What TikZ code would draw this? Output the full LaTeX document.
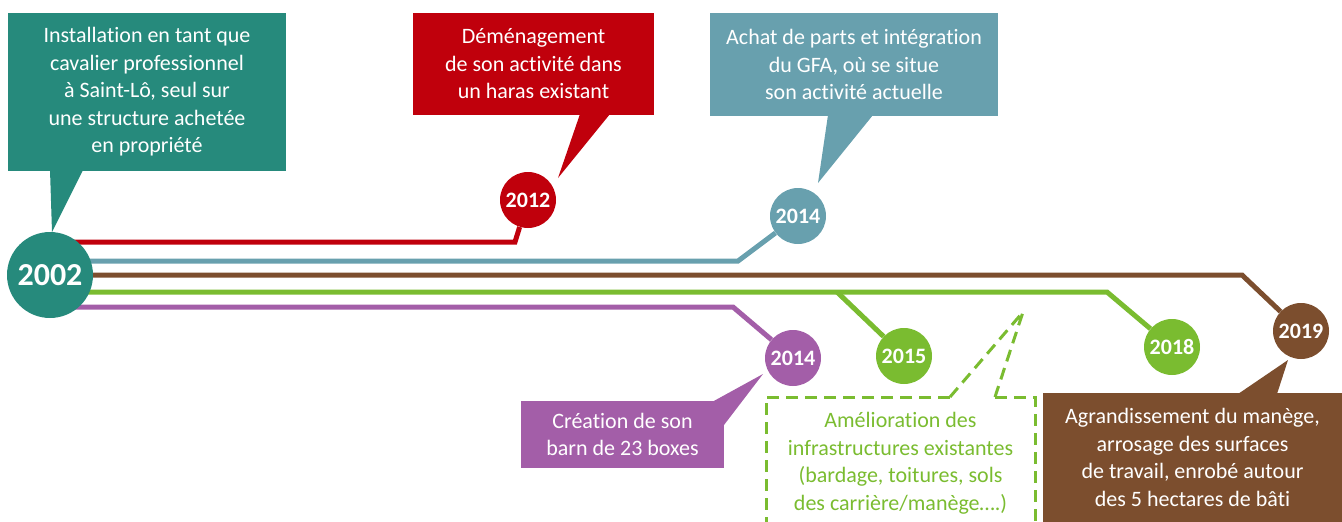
\documentclass[tikz,border=0pt]{standalone}
\usepackage{fontspec}
\setmainfont{Carlito}[Ligatures=NoCommon]
\usetikzlibrary{positioning, calc, backgrounds}
\definecolor{startcolor}{RGB}{38,138,124}
\definecolor{movecolor}{RGB}{192,0,12}
\definecolor{gfacolor}{RGB}{104,160,174}
\definecolor{barncolor}{RGB}{163,94,168}
\definecolor{infracolor}{RGB}{122,188,48}
\definecolor{extcolor}{RGB}{124,78,46}

\begin{document}
\begin{tikzpicture}[
    x=1pt, y=-1pt,
    year/.style={circle, fill=#1, text=white, minimum size=56pt, inner sep=0pt, font=\bfseries\fontsize{22}{22}\selectfont},
    event/.style={fill=#1, text=white, align=center, inner sep=0pt, font=\fontsize{22}{27.5}\selectfont},
    track/.style={draw=#1, line width=5pt},
    dashframe/.style={draw=infracolor, line width=3pt, dash pattern=on 12pt off 7pt}
]
    \useasboundingbox (0,0) rectangle (1342,522);

    % Years on the timeline
    \node[year=startcolor, minimum size=86pt, font=\bfseries\fontsize{32}{32}\selectfont] (y2002) at (50,275) {2002};
    \node[year=movecolor] (y2012) at (528,200) {2012};
    \node[year=gfacolor] (y2014a) at (798,216) {2014};
    \node[year=barncolor] (y2014b) at (793,358) {2014};
    \node[year=infracolor] (y2015) at (904,356) {2015};
    \node[year=infracolor] (y2018) at (1172,347) {2018};
    \node[year=extcolor] (y2019) at (1301,331) {2019};

    % Bends of the tracks
    \coordinate (b2012) at (515,242);
    \coordinate (b2014a) at (738,261);
    \coordinate (b2019) at (1242,275);
    \coordinate (b2015) at (837,292);
    \coordinate (b2018) at (1107,292);
    \coordinate (b2014b) at (733,307);

    \begin{scope}[on background layer]
        \draw[track=movecolor] (y2002.center |- b2012) -- (b2012) -- (y2012);
        \draw[track=gfacolor] (y2002.center |- b2014a) -- (b2014a) -- (y2014a);
        \draw[track=extcolor] (y2002.center |- b2019) -- (b2019) -- (y2019);
        \draw[track=infracolor] (y2002.center |- b2018) -- (b2018) -- (y2018);
        \draw[track=infracolor] (b2015) -- (y2015);
        \draw[track=barncolor] (y2002.center |- b2014b) -- (b2014b) -- (y2014b);
    \end{scope}

    % Events
    \node[event=startcolor, minimum width=278pt, minimum height=158pt] (start) at (147,92) {Installation en tant que\\cavalier professionnel\\à Saint-Lô, seul sur\\une structure achetée\\en propriété};
    \node[event=movecolor, minimum width=241pt, minimum height=102pt] (move) at (533.5,64) {Déménagement\\de son activité dans\\un haras existant};
    \node[event=gfacolor, minimum width=288pt, minimum height=103pt] (gfa) at (854,64.5) {Achat de parts et intégration\\du GFA, où se situe\\son activité actuelle};
    \node[event=barncolor, minimum width=203pt, minimum height=67pt] (barn) at (622.5,434.5) {Création de son\\barn de 23 boxes};
    \node[align=center, text=infracolor, font=\fontsize{22}{27.5}\selectfont] (infra) at (900.5,463) {Amélioration des\\infrastructures existantes\\(bardage, toitures, sols\\des carrière/manège\dots.)};
    \node[event=extcolor, minimum width=299pt, minimum height=129pt] (ext) at (1192.5,457.5) {Agrandissement du manège,\\arrosage des surfaces\\de travail, enrobé autour\\des 5 hectares de bâti};

    % Tails
    \fill[startcolor] (50,170) -- (83,170) -- (52,232) -- cycle;
    \fill[movecolor] (580,114) -- (610,114) -- (558,178) -- cycle;
    \fill[gfacolor] (828,115) -- (873,115) -- (818,183) -- cycle;
    \fill[barncolor] (712,402) -- (763,374) -- (724,425) -- cycle;
    \fill[extcolor] (1238,394) -- (1277,394) -- (1288,360) -- cycle;

    \draw[dashframe] (950,397) -- (766,397) -- (766,522);
    \draw[dashframe] (995,397) -- (1035,397) -- (1035,522);
    \draw[dashframe] (950,397) -- (1023,312) -- (995,397);
\end{tikzpicture}
\end{document}
